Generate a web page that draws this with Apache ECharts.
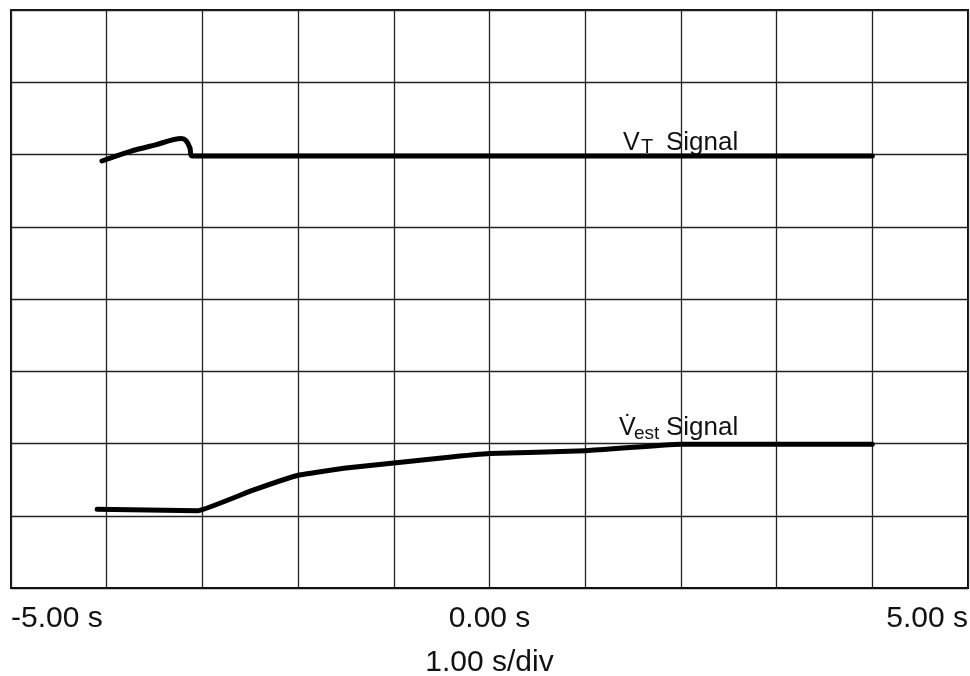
<!DOCTYPE html>
<html>
<head>
<meta charset="utf-8">
<script src="https://cdn.jsdelivr.net/npm/echarts@6/dist/echarts.min.js"></script>
<style>
  html, body { margin: 0; padding: 0; background: #fff; }
  #chart { width: 970px; height: 676px; }
</style>
</head>
<body>
<div id="chart"></div>
<script>
// time axis (s)
var xTicks = [-5, 0, 5];

// VT signal
var vtTime  = [-4.05, -3.76, -3.5, -3.22, -3.17, -3.13, -3.11, 4.0];
var vtValue = [5.91, 6.04, 6.13, 6.22, 6.19, 6.09, 5.98, 5.98];

// Vest signal
var vestTime  = [-4.1, -3.05, -2.5, -2.0, -1.5, -1.0, -0.5, 0, 1, 2, 4.0];
var vestValue = [1.09, 1.07, 1.34, 1.56, 1.66, 1.73, 1.80, 1.86, 1.90, 1.99, 1.99];

function pairs(xs, ys) {
  return xs.map(function (x, i) { return [x, ys[i]]; });
}

var myChart = echarts.init(document.getElementById('chart'));
var font = 'Liberation Sans, Arial, sans-serif';

var option = {
  animation: false,
  backgroundColor: '#fff',
  grid: {
    left: 11,
    right: 2,
    top: 10,
    bottom: 88,
    outerBoundsMode: 'none',
    containLabel: false,
    show: true,
    borderColor: '#111',
    borderWidth: 2,
    backgroundColor: 'transparent'
  },
  xAxis: {
    type: 'value',
    min: -5,
    max: 5,
    interval: 1,
    name: '1.00 s/div',
    nameLocation: 'middle',
    nameGap: 60,
    nameTextStyle: { fontSize: 30, color: '#111', fontFamily: font },
    axisLine: { show: true, lineStyle: { color: '#111', width: 2 } },
    axisTick: { show: false },
    splitLine: { show: true, lineStyle: { color: '#222', width: 1.3 } },
    axisLabel: {
      fontSize: 30,
      color: '#111',
      fontFamily: font,
      margin: 16,
      alignMinLabel: 'left',
      alignMaxLabel: 'right',
      formatter: function (v) {
        if (xTicks.indexOf(v) < 0) return '';
        return v.toFixed(2) + ' s';
      }
    }
  },
  yAxis: {
    type: 'value',
    min: 0,
    max: 8,
    interval: 1,
    axisLine: { show: false },
    axisTick: { show: false },
    axisLabel: { show: false },
    splitLine: { show: true, lineStyle: { color: '#222', width: 1.3 } }
  },
  series: [
    {
      name: 'VT Signal',
      type: 'line',
      data: pairs(vtTime, vtValue),
      showSymbol: false,
      smooth: 0.3,
      lineStyle: { color: '#000', width: 5, cap: 'round', join: 'round' }
    },
    {
      name: 'Vest Signal',
      type: 'line',
      data: pairs(vestTime, vestValue),
      showSymbol: false,
      smooth: 0.1,
      lineStyle: { color: '#000', width: 5, cap: 'round', join: 'round' }
    }
  ],
  graphic: [
    { type: 'text', left: 623, top: 131, style: { text: 'V', fontSize: 25, fill: '#111', fontFamily: font } },
    { type: 'text', left: 641, top: 137, style: { text: 'T', fontSize: 20, fill: '#111', fontFamily: font } },
    { type: 'text', left: 666, top: 130, style: { text: 'Signal', fontSize: 26, fill: '#111', fontFamily: font } },
    { type: 'text', left: 619, top: 416, style: { text: 'V\u0307', fontSize: 25, fill: '#111', fontFamily: font } },
    { type: 'text', left: 634, top: 424, style: { text: 'est', fontSize: 19, fill: '#111', fontFamily: font } },
    { type: 'text', left: 666, top: 415, style: { text: 'Signal', fontSize: 26, fill: '#111', fontFamily: font } }
  ]
};

myChart.setOption(option, true);
window.addEventListener('resize', function () {
  myChart.resize();
});
</script>
</body>
</html>
